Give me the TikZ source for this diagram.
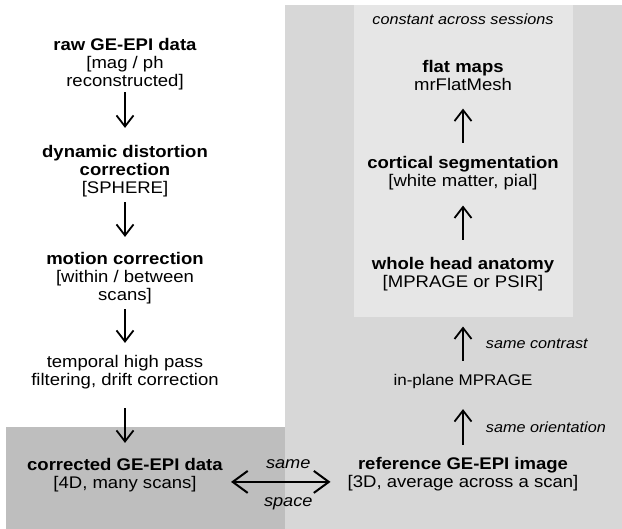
\documentclass[tikz,border=0pt]{standalone}
\usepackage{fontspec}
\setmainfont{Liberation Sans}[FakeStretch=1.1]
\usetikzlibrary{arrows.meta}
\definecolor{panelc}{HTML}{D7D7D7}
\definecolor{innerc}{HTML}{E6E6E6}
\definecolor{darkc}{HTML}{BEBEBE}
\tikzset{
  >={Straight Barb[length=11bp,width=17bp]},
  stage/.style={align=center,inner sep=0pt,anchor=north,font=\fontsize{16.9}{18}\selectfont},
  note/.style={inner sep=0pt,font=\fontsize{14.8}{16}\selectfont\itshape},
  flow/.style={->,line width=1.8bp},
  pair/.style={{Straight Barb[length=15bp,width=22bp]}-{Straight Barb[length=15bp,width=22bp]},line width=2bp},
}

\begin{document}
\begin{tikzpicture}[x=1bp,y=-1bp]
  \useasboundingbox (0,0) rectangle (622,529);
  % shaded panels
  \fill[panelc] (285,5) rectangle (622,529);
  \fill[innerc] (354,5) rectangle (573,317);
  \fill[darkc] (6,427) rectangle (285,529);
  % functional stream, top to bottom
  \node[stage] (raw) at (125,37.9) {\textbf{raw GE-EPI data}\\{[}mag / ph\\reconstructed]};
  \node[stage] (dyn) at (125,144.9) {\textbf{dynamic distortion}\\\textbf{correction}\\{[}SPHERE]};
  \node[stage] (moco) at (125,251.9) {\textbf{motion correction}\\{[}within / between\\scans]};
  \node[stage] (hpf) at (125,354.9) {temporal high pass\\filtering, drift correction};
  \node[stage] (epi) at (125,457.9) {\textbf{corrected GE-EPI data}\\{[}4D, many scans]};
  % anatomical stream, bottom to top
  \node[note,anchor=base] (const) at (463,25) {constant across sessions};
  \node[stage] (flat) at (463,59.9) {\textbf{flat maps}\\mrFlatMesh};
  \node[stage] (seg) at (463,155.9) {\textbf{cortical segmentation}\\{[}white matter, pial]};
  \node[stage] (anat) at (463,256.9) {\textbf{whole head anatomy}\\{[}MPRAGE or PSIR]};
  \node[stage,anchor=base,font=\fontsize{15.5}{17}\selectfont] (inpl) at (463,385) {in-plane MPRAGE};
  \node[stage] (ref) at (463,456.9) {\textbf{reference GE-EPI image}\\{[}3D, average across a scan]};

  \draw[flow,shorten <=2.6bp,shorten >=17bp] (raw) -- (dyn);
  \draw[flow,shorten <=5.6bp,shorten >=15bp] (dyn) -- (moco);
  \draw[flow,shorten <=5.6bp,shorten >=12bp] (moco) -- (hpf);
  \draw[flow,shorten <=19.4bp,shorten >=15bp] (hpf) -- (epi);

  \draw[flow,shorten <=12bp,shorten >=20.7bp] (ref) -- (inpl)
    node[note,midway,anchor=base west,xshift=22bp,yshift=-9.4bp] (orient) {same orientation};
  \draw[flow,shorten <=13bp,shorten >=35.6bp] (inpl) -- (anat)
    node[note,midway,anchor=base west,xshift=22bp,yshift=-15.8bp] (contr) {same contrast};
  \draw[flow,shorten <=17bp,shorten >=15.6bp] (anat) -- (seg);
  \draw[flow,shorten <=13bp,shorten >=18bp] (seg) -- (flat);

  % registration between the two streams
  \draw[pair,shorten <=8bp,shorten >=17bp] ([yshift=-7bp]epi.east) -- ([yshift=-7bp]epi.east -| ref.west)
    node[note,midway,anchor=base,xshift=3bp,yshift=13.6bp,font=\fontsize{16.6}{18}\selectfont\itshape] (same) {same}
    node[note,midway,anchor=base,xshift=3bp,yshift=-24.4bp,font=\fontsize{16.6}{18}\selectfont\itshape] (space) {space};
\end{tikzpicture}
\end{document}
